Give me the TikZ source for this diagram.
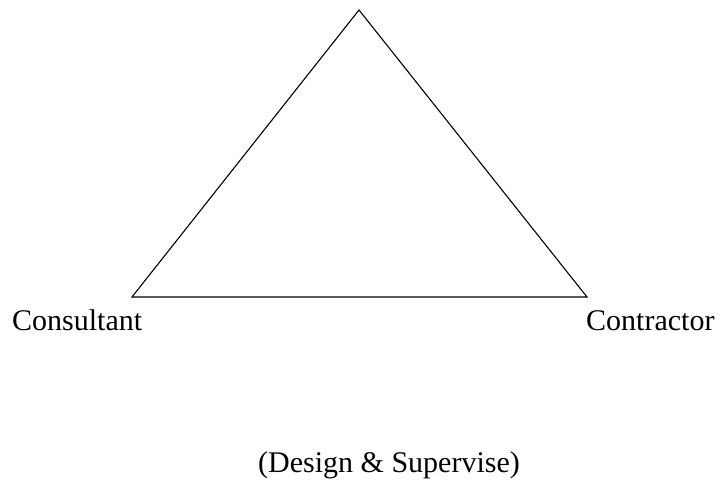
\documentclass[tikz,border=0pt]{standalone}
\usepackage{fontspec}
\setmainfont{Liberation Serif}
\begin{document}
\begin{tikzpicture}[x=1pt,y=-1pt,
  lbl/.style={anchor=base west,inner sep=0pt,font=\fontsize{30}{35}\selectfont},
  edge/.style={draw=black,line width=1.1pt,line join=miter}]
\useasboundingbox (0,0) rectangle (723,483);
\coordinate (top) at (359,10);
\coordinate (bl) at (132,297);
\coordinate (br) at (587,297);
\draw[edge] (top) -- (bl) -- (br) -- cycle;
\node[lbl] (cons) at (12,330) {Consultant};
\node[lbl] (contr) at (586,330) {Contractor};
\node[lbl] (ds) at (258,472) {(Design \& Supervise)};
\end{tikzpicture}
\end{document}
